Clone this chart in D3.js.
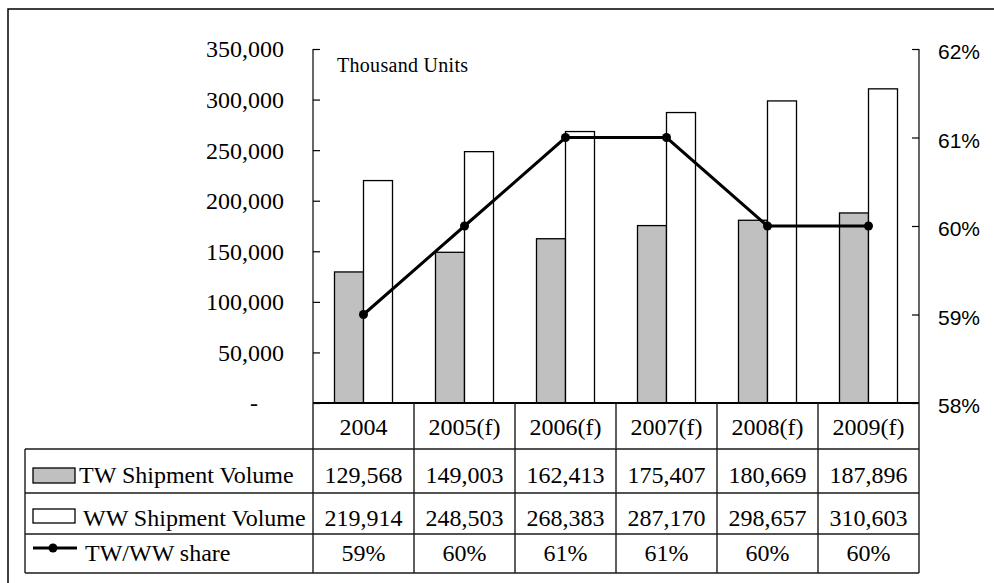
<!DOCTYPE html>
<html>
<head>
<meta charset="utf-8">
<script src="https://cdn.jsdelivr.net/npm/d3@7"></script>
<style>
html,body{margin:0;padding:0;background:#fff;}
svg{display:block;}
</style>
</head>
<body>
<svg id="chart" width="994" height="583"></svg>
<script>
const categories = ["2004","2005(f)","2006(f)","2007(f)","2008(f)","2009(f)"];
const twVolume = [129568,149003,162413,175407,180669,187896];
const wwVolume = [219914,248503,268383,287170,298657,310603];
const share = [59,60,61,61,60,60];
const leftTicks = [0,50000,100000,150000,200000,250000,300000,350000];
const rightTicks = [58,59,60,61,62];
const seriesNames = ["TW Shipment Volume","WW Shipment Volume","TW/WW share"];
const unitLabel = "Thousand Units";

const svg = d3.select("#chart");
const serif = "'Liberation Serif','Times New Roman',serif";
const sans = "'Liberation Sans',Arial,sans-serif";

const L = 313, R = 919, T = 49, B = 403;
const rowY = [403, 449, 493, 534, 573];
const tableLeft = 25;

const x = d3.scaleBand().domain(categories).range([L, R]).paddingInner(0).paddingOuter(0);
const yL = d3.scaleLinear().domain([0,350000]).range([B, T]);
const yR = d3.scaleLinear().domain([58,62]).range([B, T]);
const fmt = d3.format(",");

// outer frame
svg.append("path").attr("d","M8,600V9H1000").attr("fill","none").attr("stroke","#000").attr("stroke-width",1.5);

// bars
const bw = 29;
const g = svg.append("g");
g.selectAll("rect.tw").data(twVolume).join("rect")
  .attr("x",(d,i)=>x(categories[i])+x.bandwidth()/2-bw)
  .attr("y",d=>yL(d)).attr("width",bw).attr("height",d=>B-yL(d))
  .attr("fill","#c0c0c0").attr("stroke","#000").attr("stroke-width",1.3);
g.selectAll("rect.ww").data(wwVolume).join("rect")
  .attr("x",(d,i)=>x(categories[i])+x.bandwidth()/2)
  .attr("y",d=>yL(d)).attr("width",bw).attr("height",d=>B-yL(d))
  .attr("fill","#fff").attr("stroke","#000").attr("stroke-width",1.3);

// left axis
const la = svg.append("g").attr("transform",`translate(${L},0)`)
  .call(d3.axisLeft(yL).tickValues(leftTicks).tickSize(-7).tickPadding(0).tickFormat(()=>""));
la.select(".domain").attr("stroke","#000").attr("stroke-width",1.2).attr("d",`M-0,${T}H0V${B}`);
la.selectAll(".tick line").attr("stroke","#000").attr("stroke-width",1.2);
svg.append("g").selectAll("text").data(leftTicks).join("text")
  .attr("x",d=>d===0?258:284).attr("y",d=>yL(d)).attr("dy","0.35em")
  .attr("text-anchor","end").attr("font-family",serif).attr("font-size",24).attr("fill","#000")
  .text(d=>d===0?"-":fmt(d));

// right axis
const ra = svg.append("g").attr("transform",`translate(${R},0)`)
  .call(d3.axisRight(yR).tickValues(rightTicks).tickSize(-7).tickFormat(()=>""));
ra.select(".domain").attr("stroke","#000").attr("stroke-width",1.2).attr("d",`M0,${T}H0V${B}`);
ra.selectAll(".tick line").attr("stroke","#000").attr("stroke-width",1.2);
svg.append("g").selectAll("text").data(rightTicks).join("text")
  .attr("x",938).attr("y",d=>yR(d)+3).attr("dy","0.35em")
  .attr("text-anchor","start").attr("font-family",sans).attr("font-size",21).attr("fill","#000")
  .text(d=>d+"%");

// unit label
svg.append("text").attr("x",337).attr("y",72).attr("font-family",serif).attr("font-size",20)
  .attr("letter-spacing",0.3).text(unitLabel);

// line
const cx = (d,i)=>x(categories[i])+x.bandwidth()/2;
svg.append("path").datum(share)
  .attr("d",d3.line().x(cx).y(d=>yR(d)))
  .attr("fill","none").attr("stroke","#000").attr("stroke-width",3);
svg.append("g").selectAll("circle").data(share).join("circle")
  .attr("cx",cx).attr("cy",d=>yR(d)).attr("r",4.5).attr("fill","#000");

// baseline
svg.append("line").attr("x1",L).attr("x2",R).attr("y1",B).attr("y2",B).attr("stroke","#000").attr("stroke-width",2);

// table grid
const tg = svg.append("g").attr("stroke","#1a1a1a").attr("stroke-width",1.4);
tg.selectAll("line.h").data(rowY.slice(1)).join("line").attr("class","h")
  .attr("x1",tableLeft).attr("x2",R).attr("y1",d=>d).attr("y2",d=>d);
tg.append("line").attr("x1",tableLeft).attr("x2",tableLeft).attr("y1",rowY[1]).attr("y2",rowY[4]);
const bounds = categories.map(c=>x(c)).concat([R]);
tg.selectAll("line.v").data(bounds).join("line").attr("class","v")
  .attr("x1",d=>d).attr("x2",d=>d).attr("y1",B).attr("y2",rowY[4]);

// header labels
const tt = svg.append("g").attr("font-family",serif).attr("font-size",24).attr("fill","#000").attr("text-anchor","middle");
tt.selectAll("text.h").data(categories).join("text").attr("class","h")
  .attr("x",(d,i)=>cx(d,i)).attr("y",435).text(d=>d);
const rows = [twVolume.map(fmt), wwVolume.map(fmt), share.map(d=>d+"%")];
const baselines = [483, 526, 561];
rows.forEach((r,ri)=>{
  tt.append("g").selectAll("text").data(r).join("text")
    .attr("x",(d,i)=>cx(d,i)).attr("y",baselines[ri]).text(d=>d);
});

// legend cells
const lg = svg.append("g");
lg.append("rect").attr("x",33).attr("y",468).attr("width",42).attr("height",15)
  .attr("fill","#c0c0c0").attr("stroke","#000").attr("stroke-width",1.3);
lg.append("rect").attr("x",33).attr("y",509).attr("width",42).attr("height",14)
  .attr("fill","#fff").attr("stroke","#000").attr("stroke-width",1.3);
lg.append("line").attr("x1",33).attr("x2",77).attr("y1",548).attr("y2",548).attr("stroke","#000").attr("stroke-width",3);
lg.append("circle").attr("cx",53).attr("cy",548).attr("r",4.5).attr("fill","#000");
const legX = [79, 83, 85];
seriesNames.forEach((n,i)=>{
  lg.append("text").attr("x",legX[i]).attr("y",baselines[i]).attr("font-family",serif)
    .attr("font-size",24).attr("fill","#000").text(n);
});
</script>
</body>
</html>
